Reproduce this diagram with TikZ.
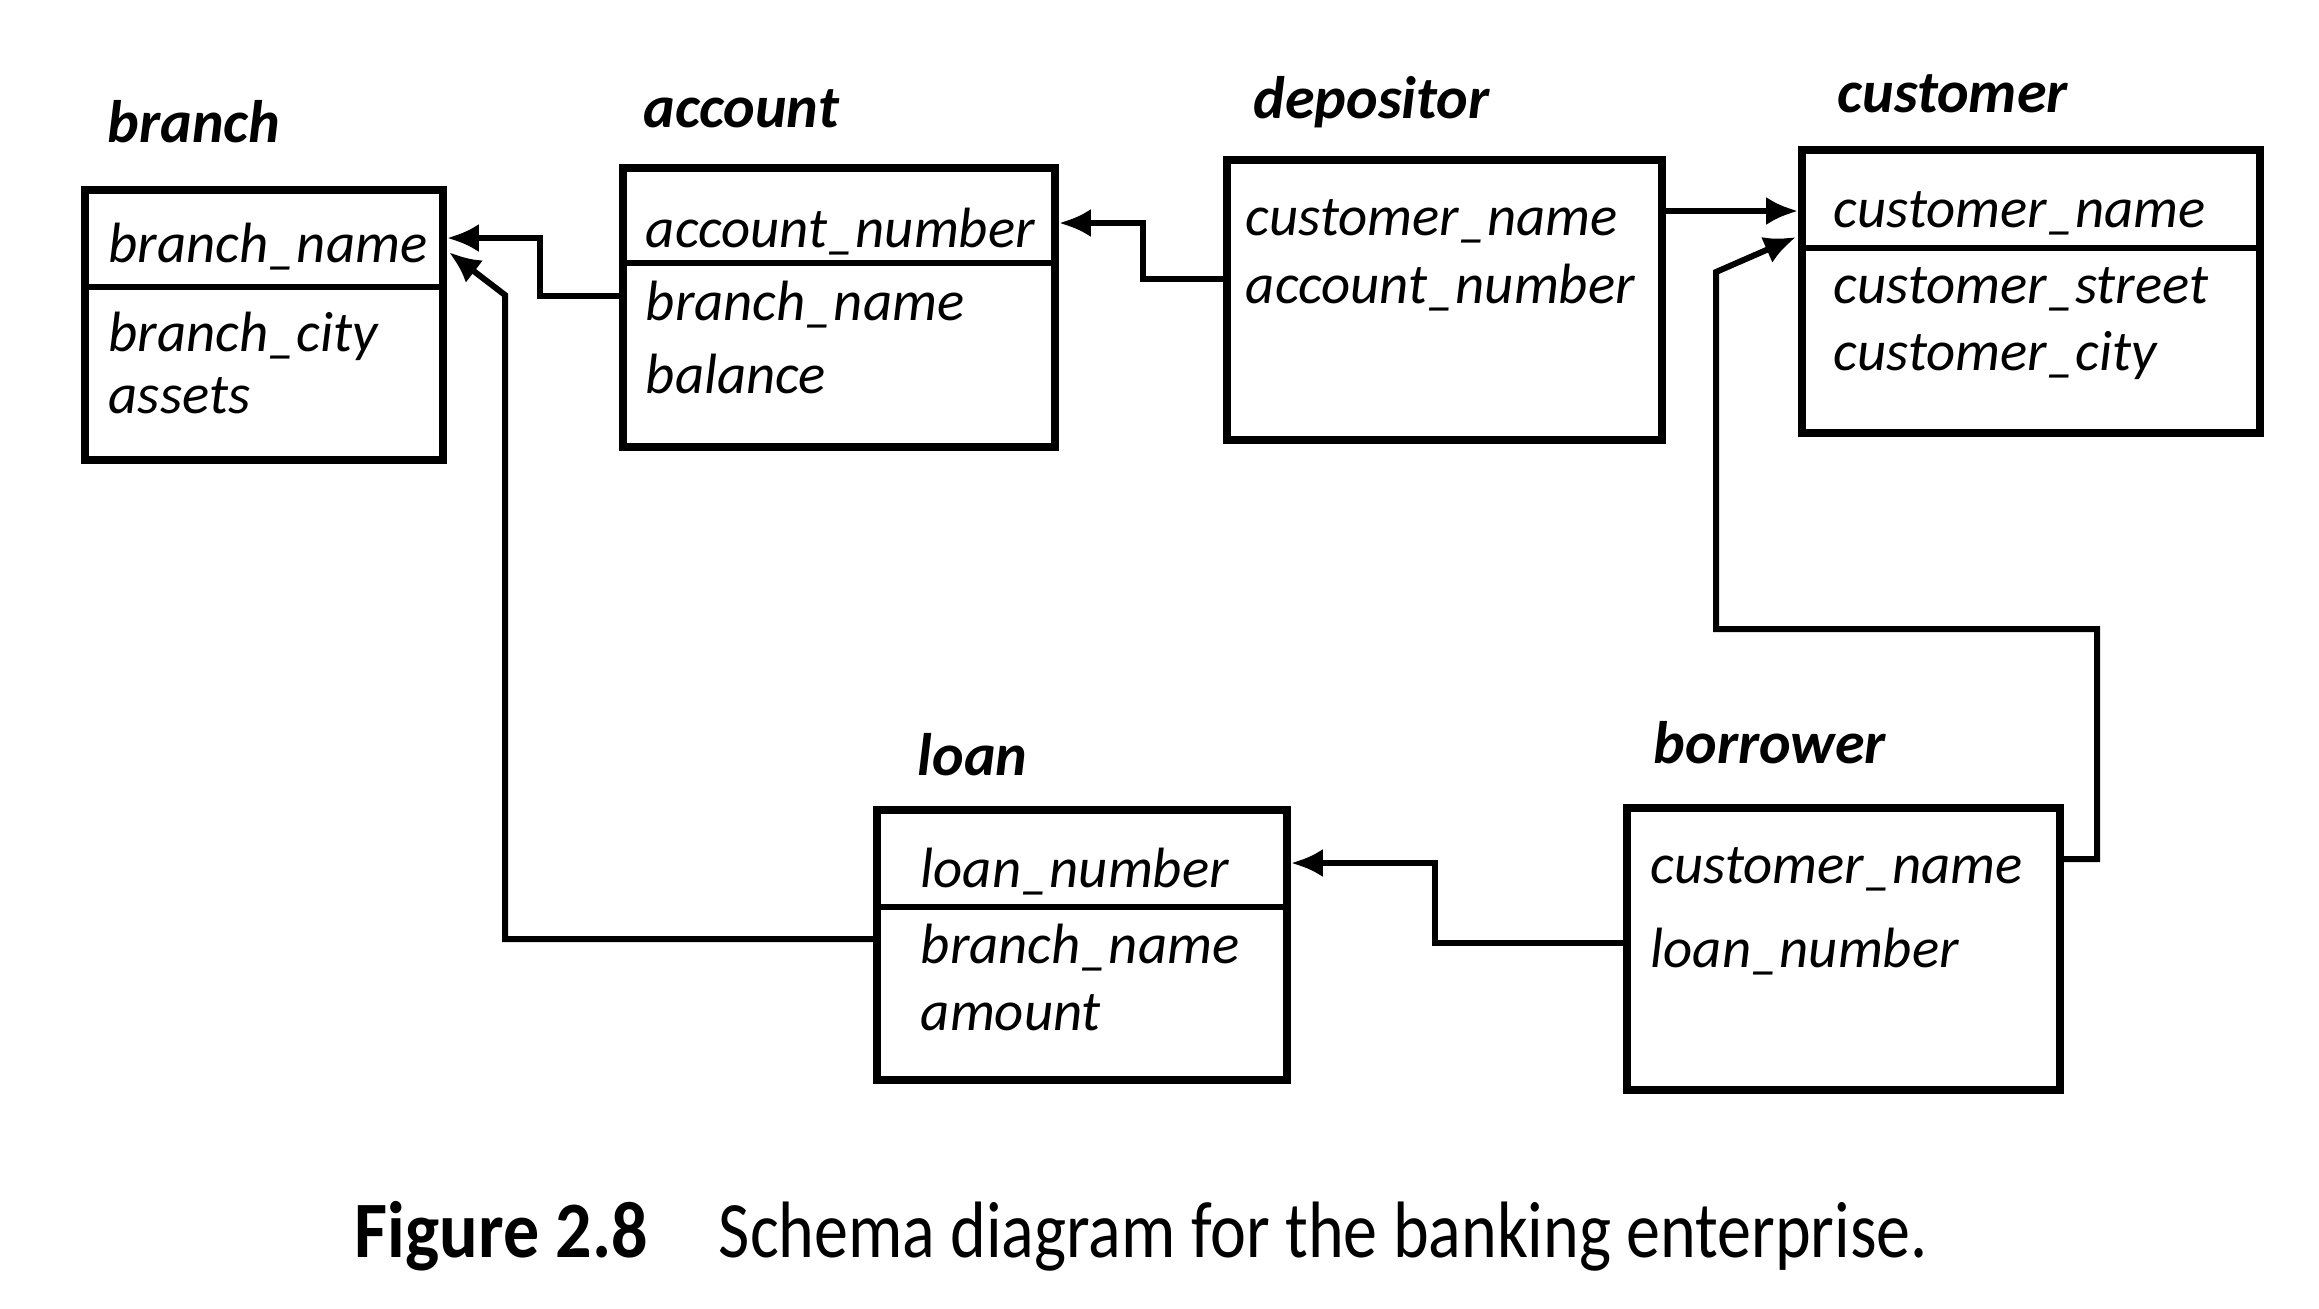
\documentclass[tikz,border=0pt]{standalone}
\usepackage{fontspec}
\usepackage{graphicx}
\setmainfont{Carlito}
\usetikzlibrary{arrows.meta,fit,calc}
\begin{document}
\begin{tikzpicture}[x=0.25pt,y=-0.25pt,
  tbl/.style={draw=black, line width=1.9pt, inner sep=0pt, rectangle},
  divider/.style={line width=1.7pt},
  fld/.style={anchor=base west, inner sep=0pt,
    font=\fontsize{14.2}{17}\selectfont\itshape, text height=12pt, text depth=0pt},
  ttl/.style={anchor=base west, inner sep=0pt,
    font=\fontsize{15}{18}\selectfont\bfseries\itshape},
  fk/.style={line width=1.5pt, -{Latex[length=8pt,width=7pt]}},
  ]
% page
\fill[white] (0,0) rectangle (2319,1308);
\useasboundingbox (0,0) rectangle (2319,1308);

% ---------- branch ----------
\node[ttl] (branch-t) at (107,142) {branch};
\node[tbl, fit={(85,190) (443,460)}] (branch) {};
\coordinate (branch-div) at (0,287);
\draw[divider] (branch.west |- branch-div) -- (branch.east |- branch-div);
\node[fld] (br-nm) at (108,262) {branch\_name};
\node[fld] (br-ct) at (108,351) {branch\_city};
\node[fld] (br-as) at (108,413) {assets};

% ---------- account ----------
\node[ttl] (account-t) at (643,127) {account};
\node[tbl, fit={(623,168) (1055,447)}] (account) {};
\coordinate (account-div) at (0,263);
\draw[divider] (account.west |- account-div) -- (account.east |- account-div);
\node[fld] (ac-an) at (645,247) {account\_number};
\node[fld] (ac-bn) at (645,320) {branch\_name};
\node[fld] (ac-bl) at (645,393) {balance};

% ---------- depositor ----------
\node[ttl] (depositor-t) at (1253,118) {depositor};
\node[tbl, fit={(1227,160) (1662,440)}] (depositor) {};
\node[fld] (dp-cn) at (1245,235) {customer\_name};
\node[fld] (dp-an) at (1245,303) {account\_number};

% ---------- customer ----------
\node[ttl] (customer-t) at (1837,112) {customer};
\node[tbl, fit={(1802,150) (2260,433)}] (customer) {};
\coordinate (customer-div) at (0,248);
\draw[divider] (customer.west |- customer-div) -- (customer.east |- customer-div);
\node[fld] (cu-nm) at (1833,227) {customer\_name};
\node[fld] (cu-st) at (1833,303) {customer\_street};
\node[fld] (cu-ct) at (1833,370) {customer\_city};

% ---------- loan ----------
\node[ttl] (loan-t) at (917,775) {loan};
\node[tbl, fit={(877,810) (1287,1080)}] (loan) {};
\coordinate (loan-div) at (0,907);
\draw[divider] (loan.west |- loan-div) -- (loan.east |- loan-div);
\node[fld] (ln-ln) at (920,887) {loan\_number};
\node[fld] (ln-bn) at (920,963) {branch\_name};
\node[fld] (ln-am) at (920,1030) {amount};

% ---------- borrower ----------
\node[ttl] (borrower-t) at (1653,763) {borrower};
\node[tbl, fit={(1627,808) (2060,1090)}] (borrower) {};
\node[fld] (bo-cn) at (1650,883) {customer\_name};
\node[fld] (bo-ln) at (1650,967) {loan\_number};

% ---------- foreign keys ----------
% account.branch_name -> branch.branch_name
\coordinate (j1) at (540,270);
\draw[fk] (account.west |- ac-bn) -| (j1) |- (branch.east |- br-nm);

% loan.branch_name -> branch.branch_name
\coordinate (j2) at (505,295);
\draw[fk] (loan.west |- ln-bn) -| (j2) [rounded corners=3pt] -- ($(branch.east |- br-nm)+(2,14)$);

% depositor.account_number -> account.account_number
\coordinate (j3) at (1143,250);
\draw[fk] (depositor.west |- dp-an) -| (j3) |- (account.east |- ac-an);

% depositor.customer_name -> customer.customer_name
\draw[fk] (depositor.east |- dp-cn) -- (customer.west |- dp-cn);

% borrower.customer_name -> customer.customer_name
\coordinate (j5a) at (2097,629);
\coordinate (j5l) at (1716,629);
\coordinate (j5b) at (1716,272);
\draw[fk] (borrower.east |- bo-cn) -| (j5a) -- (j5l) -- (j5b)
  [rounded corners=5pt] -- ($(customer.west |- cu-nm)+(-2,34)$);

% borrower.loan_number -> loan.loan_number
\coordinate (j6) at (1435,905);
\draw[fk] (borrower.west |- bo-ln) -| (j6) |- (loan.east |- ln-ln);

% ---------- caption ----------
\node[anchor=base west, inner sep=0pt, font=\fontsize{20}{24}\selectfont\bfseries]
  (figno) at (354,1257) {\scalebox{0.9}[1]{Figure 2.8}};
\node[anchor=base west, inner sep=0pt, font=\fontsize{20}{24}\selectfont]
  (figcap) at (718,1257) {\scalebox{0.85}[1]{Schema diagram for the banking enterprise.}};
\end{tikzpicture}
\end{document}
